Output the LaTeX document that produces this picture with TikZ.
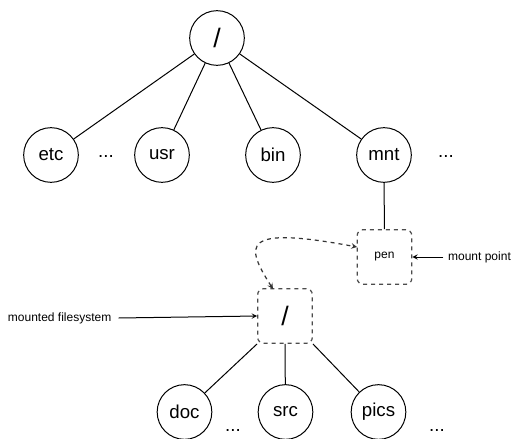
\documentclass[tikz,border=0pt]{standalone}
\usepackage{fontspec}
\setmainfont{Liberation Sans}
\usetikzlibrary{arrows, positioning}
\tikzset{
  dirnode/.style={
    circle,
    draw=black,
    line width = 0.75pt,
    minimum size = 41pt,
    inner sep = 0pt,
    font = \fontsize{14}{16}\selectfont,
  },
  mountbox/.style={
    rectangle,
    rounded corners = 4.5pt,
    dashed,
    draw=black!70,
    line width = 0.9pt,
    minimum width = 41pt,
    minimum height = 41pt,
    inner sep = 0pt,
  },
  edge/.style={
    line width = 0.75pt,
    draw=black,
  },
  arrow/.style={
    line width = 0.75pt,
    ->,
    > = stealth,
    draw=black,
  },
  dasharrow/.style={
    line width = 0.9pt,
    <->,
    > = stealth,
    dashed,
    draw=black!80,
  },
  smalltext/.style={font = \fontsize{9}{11}\selectfont},
  dots/.style={font = \fontsize{14}{16}\selectfont},
  slash/.style={font = \fontsize{20}{22}\selectfont},
}

\begin{document}
\begin{tikzpicture}[x=0.75pt, y=-0.75pt]
    \useasboundingbox (0,0) rectangle (514,439);
    % top level
    \node (root) [dirnode, slash] at (217,38) {/};
    \node (etc) [dirnode] at (51,155) {etc};
    \node (usr) [dirnode] at (162,155) {usr};
    \node (bin) [dirnode] at (273,155) {bin};
    \node (mnt) [dirnode] at (384,155) {mnt};
    \node (dots1) [dots] at (106,157) {...};
    \node (dots2) [dots] at (446,157) {...};
    \draw [edge] (root) -- (etc);
    \draw [edge] (root) -- (usr);
    \draw [edge] (root) -- (bin);
    \draw [edge] (root) -- (mnt);
    % mount point
    \node (pen) [mountbox, smalltext] at (384.5,257) {pen};
    \node (mp) [smalltext, right = 0.75pt*31 of pen.east, anchor=west] {mount point};
    \draw [edge] (mnt) -- (pen);
    \draw [arrow] (mp.west) -- (pen.east);
    % mounted filesystem
    \node (fs) [mountbox, slash] at (285,316) {/};
    \node (mfs) [smalltext, anchor=east] at (116,318) {mounted filesystem};
    \draw [arrow] (mfs.east) ++(2pt,0) -- (fs.west);
    \coordinate (fstop) at (273,289);
    \coordinate (penin) at (357,247);
    \draw [dasharrow] (fstop) .. controls (245,245) and (240,225) .. (penin);
    % subtree
    \node (doc) [dirnode] at (184.5,412) {doc};
    \node (src) [dirnode] at (285.5,412) {src};
    \node (pics) [dirnode] at (378.5,412) {pics};
    \node (dots3) [dots] at (233,430) {...};
    \node (dots4) [dots] at (437,430) {...};
    \draw [edge] (fs.south west) -- (doc);
    \draw [edge] (fs.south) -- (src);
    \draw [edge] (fs.south east) -- (pics);
\end{tikzpicture}
\end{document}
